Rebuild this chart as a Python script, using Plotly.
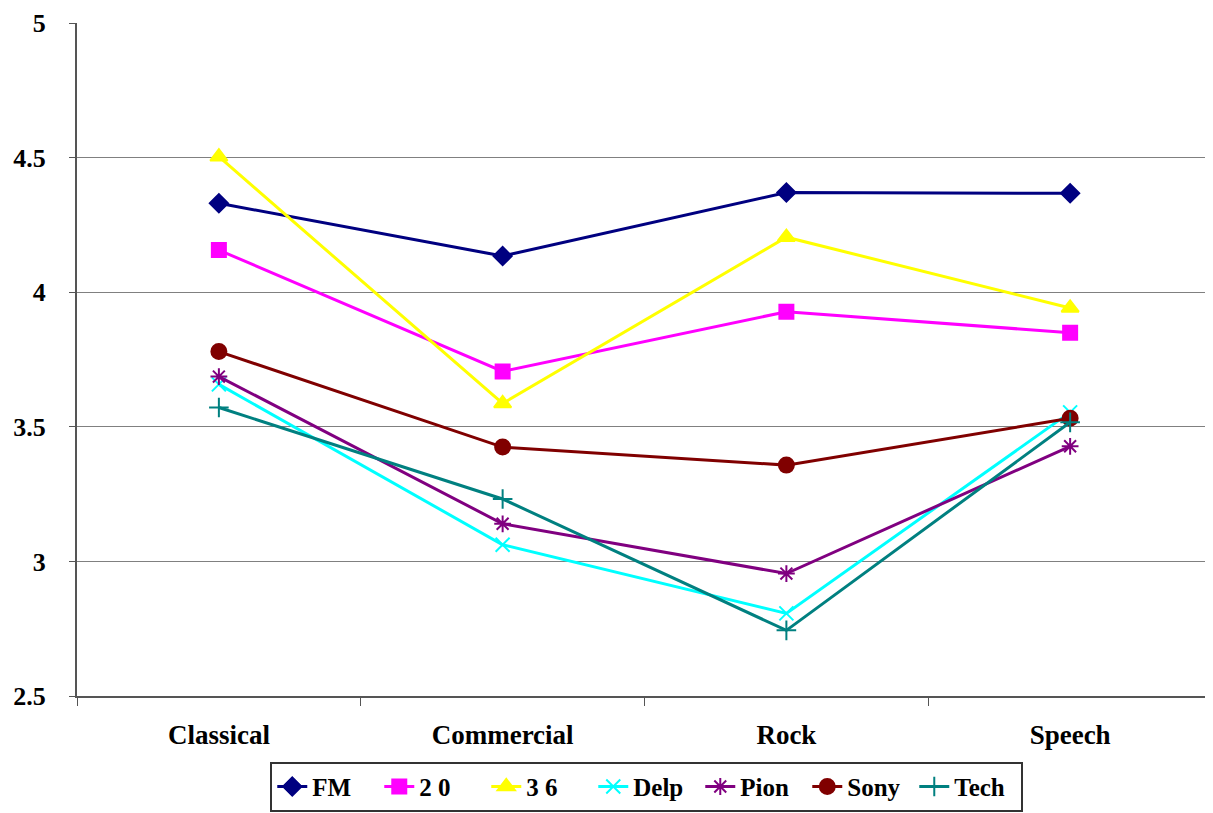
import plotly.graph_objects as go

categories = ["Classical", "Commercial", "Rock", "Speech"]
series_names = ["FM", "20", "36", "Delp", "Pion", "Sony", "Tech"]
fm = [4.331, 4.135, 4.371, 4.368]
s20 = [4.157, 3.706, 3.928, 3.850]
s36 = [4.504, 3.587, 4.205, 3.942]
delp = [3.658, 3.062, 2.807, 3.554]
pion = [3.687, 3.140, 2.955, 3.428]
sony = [3.780, 3.425, 3.358, 3.532]
tech = [3.572, 3.232, 2.744, 3.517]
y_ticks = [2.5, 3, 3.5, 4, 4.5, 5]
y_ticktext = ["2.5", "3", "3.5", "4", "4.5", "5"]

values = [fm, s20, s36, delp, pion, sony, tech]
colors = ["#000080", "#FF00FF", "#FFFF00", "#00FFFF", "#800080", "#800000", "#008080"]
symbols = ["diamond", "square", "triangle-up", "x-thin-open", "asterisk-open", "circle", "cross-thin-open"]
sizes = [14, 14, 15, 14, 14, 15, 14]
legend_names = ["FM", "2 0", "3 6", "Delp", "Pion", "Sony", "Tech"]

fig = go.Figure()
for name, lname, vals, c, sym, sz in zip(series_names, legend_names, values, colors, symbols, sizes):
    fig.add_trace(go.Scatter(
        x=categories, y=vals, name=lname, mode="lines+markers",
        line=dict(color=c, width=3),
        marker=dict(symbol=sym, size=sz, color=c, line=dict(color=c, width=2)),
    ))

fam = "Liberation Serif, Times New Roman, serif"
fig.update_layout(
    width=1205, height=805,
    margin=dict(l=69, r=1, t=15, b=117),
    paper_bgcolor="white", plot_bgcolor="white",
    font=dict(family=fam, size=24, color="black"),
    showlegend=True,
    legend=dict(orientation="h", x=0.502, xanchor="center", y=-0.172, yanchor="bottom",
                bordercolor="#333333", borderwidth=2,
                font=dict(family=fam, size=25, color="black", weight="bold"),
                entrywidth=62, entrywidthmode="pixels",
                tracegroupgap=0),
    xaxis=dict(type="category", tickson="boundaries", ticks="outside", ticklen=8, tickcolor="#555555",
               showline=True, linecolor="#555555", linewidth=2, showgrid=False, automargin=False,
               tickfont=dict(family=fam, size=27, color="black", weight="bold"),
               range=[-0.5, 3.5], ticklabelstandoff=14),
    yaxis=dict(range=[2.5, 5.001], tickvals=y_ticks, ticktext=y_ticktext, automargin=False,
               ticks="outside", ticklen=6, tickcolor="#555555", ticklabeloverflow="allow",
               showline=True, linecolor="#555555", linewidth=2,
               showgrid=True, gridcolor="#808080", gridwidth=1, zeroline=False,
               tickfont=dict(family=fam, size=26, color="black", weight="bold"),
               ticklabelstandoff=18),
)
fig.write_html("out.html")
